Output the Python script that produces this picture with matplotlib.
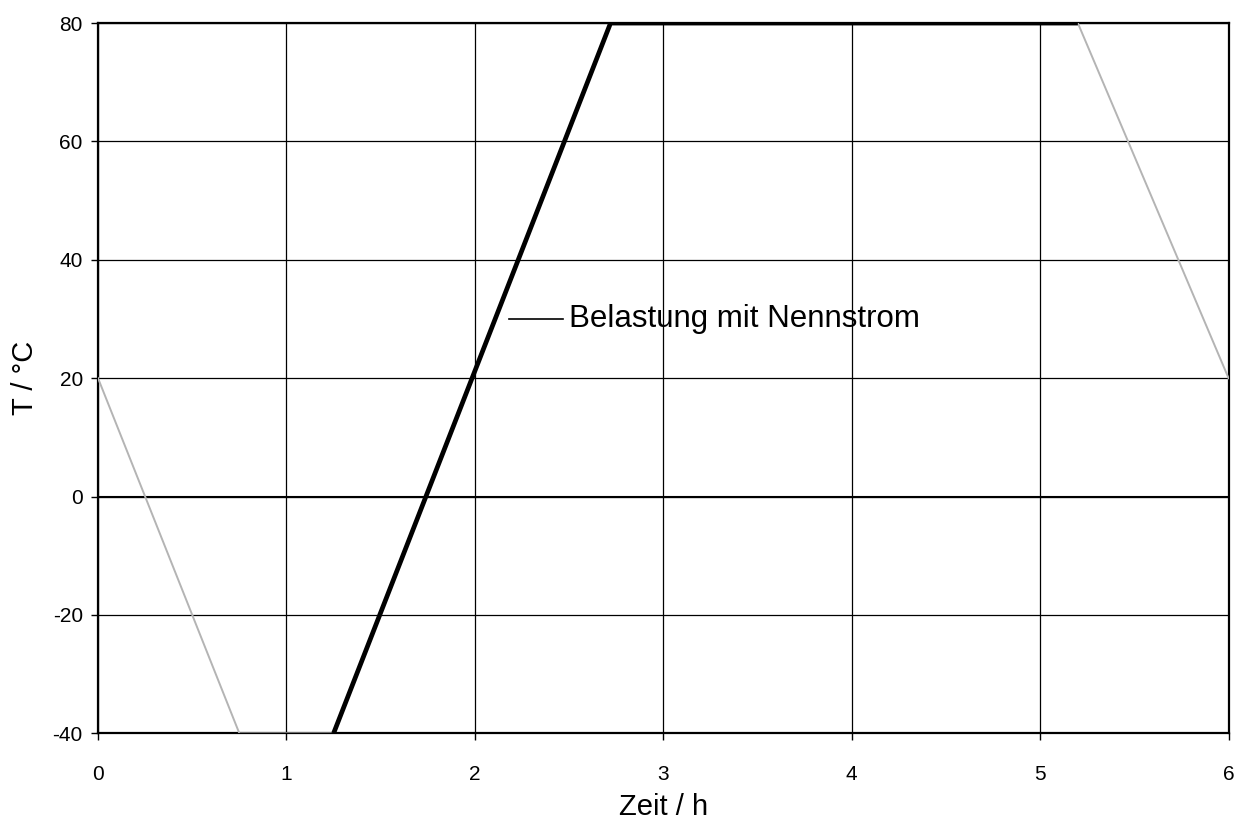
import matplotlib
matplotlib.use("Agg")
import matplotlib.pyplot as plt

plt.rcParams["font.family"] = ["Liberation Sans", "DejaVu Sans"]
plt.rcParams["axes.unicode_minus"] = False

# Temperaturprofil der Umgebung (grau) und Belastung mit Nennstrom (schwarz)
zeit_umgebung = [0.0, 0.75, 1.25, 2.72, 5.2, 6.0]
temp_umgebung = [20, -40, -40, 80, 80, 20]

zeit_last = [1.25, 2.72, 5.2]
temp_last = [-40, 80, 80]

x_ticks = [0, 1, 2, 3, 4, 5, 6]
y_ticks = [-40, -20, 0, 20, 40, 60, 80]

fig = plt.figure(figsize=(12.41, 8.24), dpi=100)
ax = fig.add_axes([0.079, 0.11, 0.911, 0.862])

ax.plot(zeit_umgebung, temp_umgebung, color="#b4b4b4", lw=1.4, zorder=3)
ax.plot(zeit_last, temp_last, color="black", lw=3.4, zorder=4,
        solid_capstyle="butt")

ax.set_xlim(0, 6)
ax.set_ylim(-40, 80)
ax.set_xticks(x_ticks)
ax.set_yticks(y_ticks)
ax.grid(True, color="black", lw=0.9)
ax.axhline(0, color="black", lw=1.5, zorder=2)
ax.set_axisbelow(True)
for sp in ax.spines.values():
    sp.set_linewidth(1.6)

ax.tick_params(axis="both", direction="out", length=5, width=1, labelsize=15)
ax.tick_params(axis="x", pad=18)
ax.tick_params(axis="y", pad=6)

ax.set_xlabel("Zeit / h", fontsize=21, labelpad=6)
ax.set_ylabel("T / °C", fontsize=21, labelpad=10)

# Beschriftung mit Verbindungsstrich
ax.plot([2.18, 2.47], [30, 30], color="black", lw=1.2, zorder=5)
ax.text(2.5, 30, "Belastung mit Nennstrom", fontsize=22.5, va="center", ha="left")

fig.savefig("out.png", dpi=100)
